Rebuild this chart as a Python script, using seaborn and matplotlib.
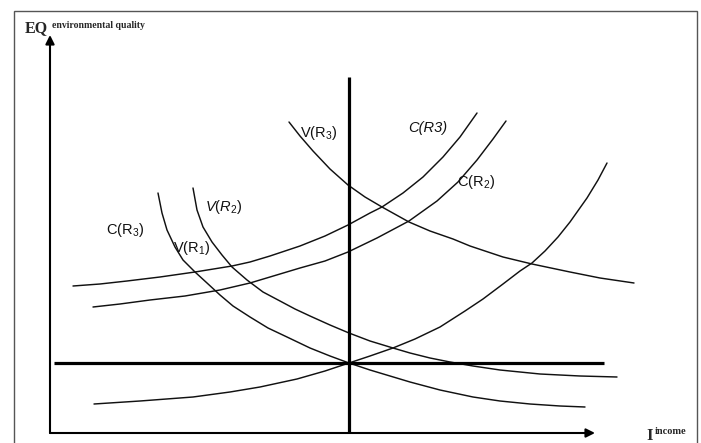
import numpy as np
import pandas as pd
import matplotlib
matplotlib.use("Agg")
import matplotlib.pyplot as plt
from matplotlib.patches import Rectangle
import seaborn as sns

# ---------------- data (income, environmental quality) ----------------
# V(R1): decreasing curve through the equilibrium point
v1_income = [108, 112, 117, 125, 133, 145, 157, 170, 183, 200, 218, 237, 260, 280,
             299, 320, 340, 360, 390, 423, 450, 480, 510, 535]
v1_eq     = [240, 220, 203, 186, 173, 161, 150, 138, 127, 116, 105, 96, 85, 77,
             70, 63, 57, 51, 43, 36, 32, 29, 27, 26]
# V(R2)
v2_income = [143, 147, 153, 162, 172, 182, 197, 213, 230, 245, 260, 280, 299, 320,
             343, 360, 380, 400, 423, 450, 490, 530, 567]
v2_eq     = [245, 223, 206, 191, 178, 166, 153, 141, 132, 124, 117, 108, 100, 92,
             85, 80, 75, 71, 67, 63, 59, 57, 56]
# V(R3)
v3_income = [239, 250, 263, 280, 298, 315, 332, 359, 380, 403, 420, 453, 482, 520, 550, 584]
v3_eq     = [311, 297, 282, 264, 248, 236, 226, 211, 202, 194, 187, 176, 169, 161, 155, 150]
# C(R3): upper rising curve
c3_income = [23, 50, 77, 110, 145, 182, 200, 220, 250, 275, 298, 320, 332, 353,
             373, 393, 410, 427]
c3_eq     = [147, 149, 152, 156, 161, 167, 171, 177, 187, 197, 208, 220, 226, 240,
             256, 276, 296, 320]
# C(R2): lower rising curve
c2_income = [43, 70, 100, 135, 170, 200, 220, 250, 275, 298, 327, 359, 387, 408,
             427, 443, 456]
c2_eq     = [126, 129, 133, 137, 143, 150, 156, 165, 172, 181, 195, 212, 232, 251,
             273, 294, 312]
# C(R1): rising curve through the equilibrium point
c1_income = [44, 90, 143, 180, 210, 247, 275, 299, 320, 343, 365, 390, 415, 433,
             453, 470, 482, 495, 508, 520, 537, 548, 557]
c1_eq     = [29, 32, 36, 41, 46, 54, 62, 70, 77, 85, 94, 106, 122, 134,
             149, 162, 170, 182, 196, 211, 235, 253, 270]

# equilibrium reference lines
income_star = 299      # vertical thick line
eq_star = 70           # horizontal thick line
vline_eq = [0, 356]
hline_income = [4, 554]

labels = ["V(R$_3$)", r"$\mathit{V(R_2)}$", "C(R$_3$)", "V(R$_1$)", "C(R3)", "C(R$_2$)"]
label_income = [250, 155, 56, 123, 358, 407]
label_eq = [300, 226, 203, 185, 305, 251]
label_italic = [False, False, False, False, True, False]

curves = {
    "V(R1)": (v1_income, v1_eq),
    "V(R2)": (v2_income, v2_eq),
    "V(R3)": (v3_income, v3_eq),
    "C(R3)": (c3_income, c3_eq),
    "C(R2)": (c2_income, c2_eq),
    "C(R1)": (c1_income, c1_eq),
}
rows = []
for name, (xs, ys) in curves.items():
    for i, (x, y) in enumerate(zip(xs, ys)):
        rows.append({"curve": name, "order": i, "income": x, "eq": y})
df = pd.DataFrame(rows)

# ---------------- drawing ----------------
sns.set_style("white")
plt.rcParams["mathtext.fontset"] = "custom"
plt.rcParams["mathtext.rm"] = "Liberation Sans"
plt.rcParams["mathtext.it"] = "Liberation Sans:italic"
plt.rcParams["font.family"] = ["Liberation Sans", "DejaVu Sans"]

fig = plt.figure(figsize=(7.01, 4.43), dpi=100)
ax = fig.add_axes([0, 0, 1, 1])
ax.set_xlim(-50, 651)
ax.set_ylim(-10, 433)
ax.axis("off")

sns.lineplot(data=df, x="income", y="eq", hue="curve", units="curve",
             estimator=None, sort=False, palette=["#111111"] * len(curves),
             linewidth=1.05, legend=False, ax=ax)

# thick equilibrium lines
ax.plot([income_star, income_star], vline_eq, color="#000000", lw=2.3, solid_capstyle="butt")
ax.plot(hline_income, [eq_star, eq_star], color="#000000", lw=2.3, solid_capstyle="butt")

# axes with arrows
ax.annotate("", xy=(0, 398), xytext=(0, 0),
            arrowprops=dict(arrowstyle="-|>", color="black", lw=1.5,
                            mutation_scale=13, shrinkA=0, shrinkB=0))
ax.annotate("", xy=(545, 0), xytext=(0, 0),
            arrowprops=dict(arrowstyle="-|>", color="black", lw=1.5,
                            mutation_scale=13, shrinkA=0, shrinkB=0))

# curve labels
for t, x, y, it in zip(labels, label_income, label_eq, label_italic):
    ax.text(x, y, t, fontsize=10.5, ha="left", va="center",
            style="italic" if it else "normal", color="#111111")

# axis titles
serif = ["Liberation Serif", "DejaVu Serif"]
ax.text(-25, 405, "EQ", family=serif, weight="bold", fontsize=11.5, ha="left", va="center")
ax.text(2, 408, "environmental quality", family=serif, weight="bold", fontsize=7,
        ha="left", va="center")
ax.text(596, -3, "I", family=serif, weight="bold", fontsize=12, ha="left", va="center")
ax.text(605, 1, "income", family=serif, weight="bold", fontsize=7.5, ha="left", va="center")

# outer frame
fig.patches.append(Rectangle((14 / 701, -0.01), 683 / 701, (432 / 443) + 0.01,
                             transform=fig.transFigure, fill=False,
                             edgecolor="#555555", lw=1.0))

fig.savefig("out.png", dpi=100)
